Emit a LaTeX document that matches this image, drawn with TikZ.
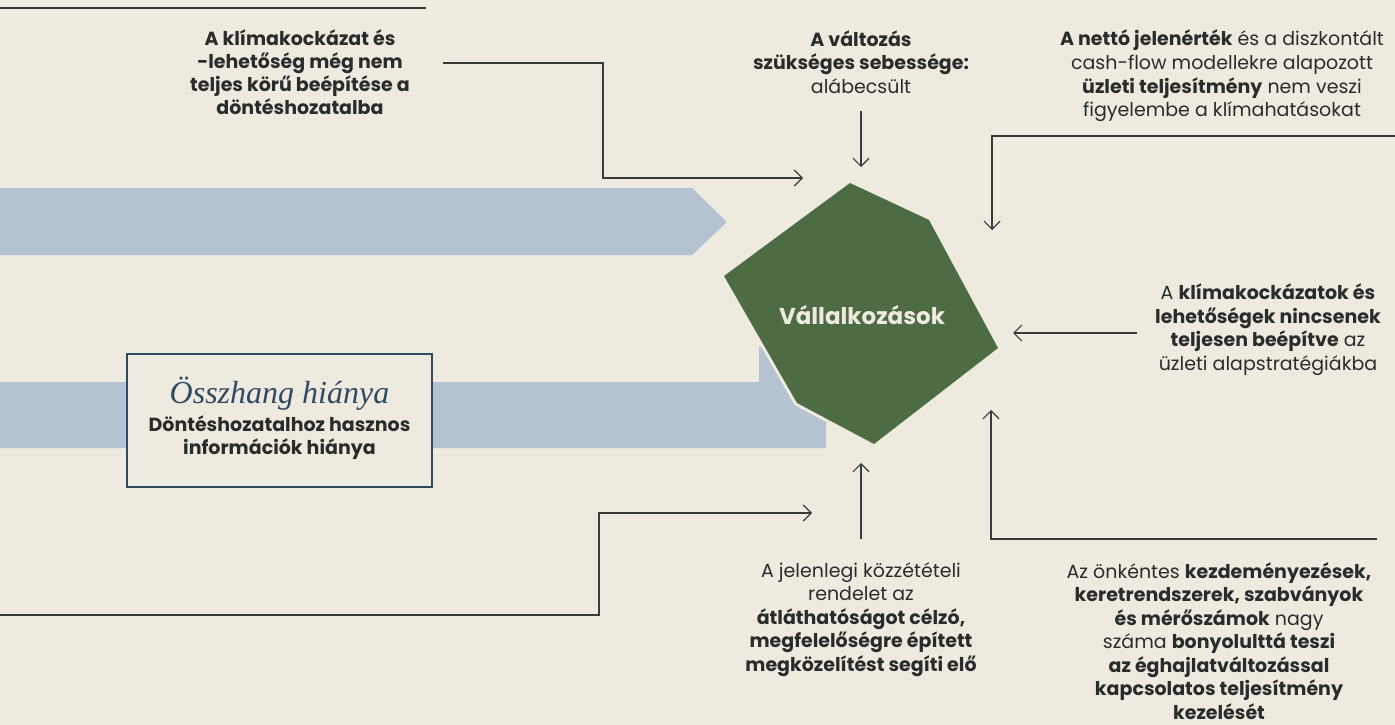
\documentclass[tikz,border=0pt]{standalone}
\usepackage{fontspec}
\setmainfont{Poppins}
\newfontfamily\titlefont{Liberation Serif}
\usetikzlibrary{arrows.meta}
\definecolor{bg}{HTML}{EEEAE0}
\definecolor{band}{HTML}{B4C2D2}
\definecolor{leaf}{HTML}{4E6C43}
\definecolor{ink}{HTML}{2B2B29}
\definecolor{slate}{HTML}{2F4B61}
\definecolor{wire}{HTML}{3A3A38}
\begin{document}
\begin{tikzpicture}[x=1pt,y=-1pt,
  txt/.style={font=\fontsize{19}{23.5}\selectfont, text=ink, align=center, inner sep=0pt, anchor=base},
  conn/.style={draw=wire, line width=1.2pt, -{Straight Barb[length=8pt,width=16pt]}},
  plain/.style={draw=wire, line width=1.2pt}]
\fill[bg] (0,0) rectangle (1395,725);
\useasboundingbox (0,0) rectangle (1395,725);
% bands
\fill[band] (0,188) -- (692,188) -- (727,222) -- (692,255) -- (0,255) -- cycle;
\fill[band] (0,382) -- (759,382) -- (759,347) -- (826,347) -- (826,448) -- (0,448) -- cycle;
% polygon
\coordinate (p1) at (850,183);
\coordinate (p2) at (929,220);
\coordinate (p3) at (998,348);
\coordinate (p4) at (874,444);
\coordinate (p5) at (797,403);
\coordinate (p6) at (724,276);
\draw[bg, line width=6pt, line join=round] (p1) -- (p2) -- (p3) -- (p4) -- (p5) -- (p6) -- cycle;
\fill[leaf] (p1) -- (p2) -- (p3) -- (p4) -- (p5) -- (p6) -- cycle;
\node[font=\fontsize{23}{26}\selectfont\bfseries, text=bg, inner sep=0pt] (biz) at (862,315) {Vállalkozások};
% box
\node[draw=slate, line width=2.2pt, fill=bg, minimum width=305pt, minimum height=133pt, inner sep=0pt] (box) at (279.5,420.5) {};
\node[font=\fontsize{32}{34}\selectfont\titlefont\itshape, text=slate, inner sep=0pt, anchor=base] (boxtitle) at (279.5,403) {Összhang hiánya};
\node[txt, font=\fontsize{19}{23}\selectfont\bfseries] (boxtext) at (279.5,454) {Döntéshozatalhoz hasznos\\információk hiánya};
% texts (anchor = baseline of last line)
\node[txt, font=\fontsize{19}{23}\selectfont\bfseries] (t1) at (300,114) {A klímakockázat és\\-lehetőség még nem\\teljes körű beépítése a\\döntéshozatalba};
\node[txt] (t2) at (861,93) {\textbf{A változás}\\\textbf{szükséges sebessége:}\\alábecsült};
\node[txt] (t3) at (1222,116.5) {\textbf{A nettó jelenérték} és a diszkontált\\cash-flow modellekre alapozott\\\textbf{üzleti teljesítmény} nem veszi\\figyelembe a klímahatásokat};
\node[txt] (t4) at (1268,370) {A \textbf{klímakockázatok és}\\\textbf{lehetőségek nincsenek}\\\textbf{teljesen beépítve} az\\üzleti alapstratégiákba};
\node[txt] (t5) at (861,671) {A jelenlegi közzétételi\\rendelet az\\\textbf{átláthatóságot célzó,}\\\textbf{megfelelőségre épített}\\\textbf{megközelítést segíti elő}};
\node[txt] (t6) at (1219,719) {Az önkéntes \textbf{kezdeményezések,}\\\textbf{keretrendszerek, szabványok}\\\textbf{és mérőszámok} nagy\\száma \textbf{bonyolulttá teszi}\\\textbf{az éghajlatváltozással}\\\textbf{kapcsolatos teljesítmény}\\\textbf{kezelését}};
% connector ends
\coordinate (a0) at (0,8);
\coordinate (a1) at (426,8);
\coordinate (c1s) at (443,63);
\coordinate (c1e) at (803,178);
\coordinate (c2s) at (861,111);
\coordinate (c2e) at (861,167);
\coordinate (c3s) at (1395,136);
\coordinate (c3e) at (992,230);
\coordinate (c4s) at (1137,333);
\coordinate (c4e) at (1013,333);
\coordinate (c5s) at (1377,539);
\coordinate (c5e) at (991,410);
\coordinate (c6s) at (861,539);
\coordinate (c6e) at (861,463);
\coordinate (c7s) at (0,615);
\coordinate (c7e) at (812,513);
\draw[plain] (a0) -- (a1);
\draw[conn] (c1s) -- (603,63) -- (603,178) -- (c1e);
\draw[conn] (c2s) -- (c2e);
\draw[conn] (c3s) -| (c3e);
\draw[conn] (c4s) -- (c4e);
\draw[conn] (c5s) -| (c5e);
\draw[conn] (c6s) -- (c6e);
\draw[conn] (c7s) -- (599,615) -- (599,513) -- (c7e);
\end{tikzpicture}
\end{document}
